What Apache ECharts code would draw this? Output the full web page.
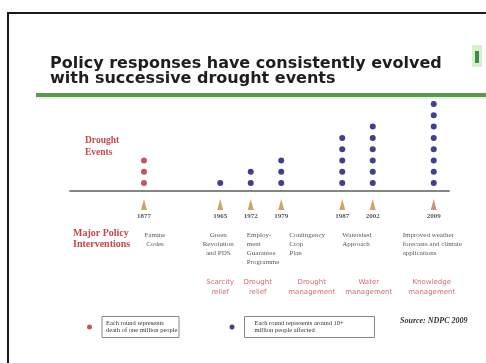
<!DOCTYPE html>
<html>
<head>
<meta charset="utf-8">
<script src="https://cdn.jsdelivr.net/npm/echarts@6/dist/echarts.min.js"></script>
<style>
  html, body { margin: 0; padding: 0; background: #fff; }
  #chart { width: 486px; height: 363px; }
</style>
</head>
<body>
<div id="chart"></div>
<script>
// Drought events and the policy response that followed each one
const years = ['1877', '1965', '1972', '1979', '1987', '2002', '2009'];
const deathDots = [3, 0, 0, 0, 0, 0, 0];      // one dot = death of one million people
const affectedDots = [0, 1, 2, 3, 5, 6, 8];   // one dot = people affected
const policies = [
  'Famine\nCodes',
  'Green\nRevolution\nand PDS',
  'Employ-\nment\nGuarantee\nProgramme',
  'Contingency\nCrop\nPlan',
  'Watershed\nApproach',
  '',
  'Improved weather\nforecasts and climate\napplications'
];
const phases = ['Scarcity\nrelief', 'Drought\nrelief', 'Drought\nmanagement', 'Water\nmanagement', 'Knowledge\nmanagement'];
const phaseEvent = [1, 2, 3.5, 5, 6];   // event index each phase sits under (3.5 = between 1979 and 1987)

// Timeline spacing (schematic, not to scale): gap in slots before each event
const slotGap = [0, 5, 2, 2, 4, 2, 4];
const slots = [];
slotGap.reduce((acc, g, i) => { slots[i] = acc + g; return acc + g; }, 0);
const slotAt = f => {
  const i = Math.floor(f), t = f - i;
  return t === 0 ? slots[i] : slots[i] + (slots[i + 1] - slots[i]) * t;
};

// Label placement for the policy notes
const policyAlign = ['center', 'center', 'left', 'left', 'left', 'left', 'left'];
const policyDx = [11, -2, -4, 8, 0, 0, -31];
const phaseDx = [0, 7, 0, -4, -2];

const RED = '#a8323a', BLUE = '#121266', PINK = '#c4484d';

const deathPts = [], affectedPts = [];
years.forEach((y, i) => {
  for (let k = 1; k <= deathDots[i]; k++) deathPts.push([slots[i], k]);
  for (let k = 1; k <= affectedDots[i]; k++) affectedPts.push([slots[i], k]);
});

const conePts = years.map((y, i) => ({
  value: [slots[i], -0.9],
  year: y,
  itemStyle: { color: i === years.length - 1 ? '#b07a62' : '#bf9040' }
}));

const policyPts = policies.map((p, i) => ({
  value: [slots[i], -3.25],
  label: { formatter: p, align: policyAlign[i], offset: [policyDx[i], 0] }
}));

const phasePts = phases.map((p, i) => ({
  value: [slotAt(phaseEvent[i]), -7.3],
  label: { formatter: p, offset: [phaseDx[i], 0] }
}));

const serif = '"Liberation Serif", "DejaVu Serif", serif';
const chart = echarts.init(document.getElementById('chart'), null, { renderer: 'canvas' });

chart.setOption({
  animation: false,
  backgroundColor: '#ffffff',
  title: {
    text: 'Policy responses have consistently evolved\nwith successive drought events',
    left: 45, top: 51,
    textStyle: { fontFamily: '"DejaVu Sans", sans-serif', fontSize: 16, fontWeight: 'bold', lineHeight: 15, color: '#1e1e1e' }
  },
  legend: {
    left: 82, top: 311,
    orient: 'horizontal',
    itemWidth: 15, itemHeight: 5, itemGap: 50,
    icon: 'circle',
    data: [
      { name: 'deaths', textStyle: { width: 69 } },
      { name: 'affected', textStyle: { width: 116, padding: [3, 4, 3, 10] } }
    ],
    formatter: n => n === 'deaths'
      ? 'Each round represents\ndeath of one million people'
      : 'Each round represents around 10+\nmillion people affected',
    textStyle: {
      fontFamily: serif, fontSize: 6.5, lineHeight: 7.5, color: '#333',
      borderColor: '#888', borderWidth: 1, padding: [3, 4]
    }
  },
  grid: { left: 70, right: 37, top: 92.7, bottom: 172 },
  xAxis: {
    type: 'value', min: -4.85, max: 20,
    axisLine: { show: true, onZero: false, lineStyle: { color: '#858585', width: 2 } },
    axisTick: { show: false }, axisLabel: { show: false }, splitLine: { show: false }
  },
  yAxis: {
    type: 'value', min: 0.3, max: 9, show: false,
    splitLine: { show: false }
  },
  series: [
    {
      name: 'deaths', type: 'scatter', data: deathPts,
      symbolSize: 6, itemStyle: { color: RED }
    },
    {
      name: 'affected', type: 'scatter', data: affectedPts,
      symbolSize: 6, itemStyle: { color: BLUE }
    },
    {
      name: 'years', type: 'scatter', data: conePts, clip: false,
      symbol: 'triangle', symbolSize: [6, 11],
      label: {
        show: true, position: 'bottom', distance: 3,
        formatter: p => p.data.year,
        fontFamily: serif, fontSize: 7, fontWeight: 'bold', color: '#2a2a2a'
      }
    },
    {
      name: 'policies', type: 'scatter', data: policyPts, clip: false,
      symbolSize: 0, silent: true,
      label: {
        show: true, position: [0, 0], verticalAlign: 'top',
        fontFamily: serif, fontSize: 7, lineHeight: 9, color: '#2e2e2e'
      }
    },
    {
      name: 'phases', type: 'scatter', data: phasePts, clip: false,
      symbolSize: 0, silent: true,
      label: {
        show: true, position: [0, 0], align: 'center', verticalAlign: 'top',
        fontFamily: '"DejaVu Sans", sans-serif', fontSize: 7, lineHeight: 10, color: PINK
      }
    }
  ],
  graphic: [
    { type: 'rect', shape: { x: 8, y: 13, width: 520, height: 400 }, style: { fill: 'none', stroke: '#1a1a1a', lineWidth: 2 }, silent: true },
    { type: 'rect', shape: { x: 36, y: 93, width: 460, height: 4 }, style: { fill: '#5b9a4f' } },
    { type: 'rect', shape: { x: 36, y: 97, width: 460, height: 2 }, style: { fill: '#e4f2df' } },
    { type: 'rect', shape: { x: 472, y: 45, width: 10, height: 22 }, style: { fill: '#d8eecf' } },
    { type: 'rect', shape: { x: 475, y: 51, width: 4, height: 12 }, style: { fill: '#3a9145' } },
    {
      type: 'text', left: 85, top: 135,
      style: { text: 'Drought\nEvents', font: 'bold 9.5px ' + serif, lineHeight: 12, fill: PINK }
    },
    {
      type: 'text', left: 73, top: 228,
      style: { text: 'Major Policy\nInterventions', font: 'bold 10px ' + serif, lineHeight: 11, fill: PINK }
    },
    {
      type: 'text', left: 400, top: 317,
      style: { text: 'Source: NDPC 2009', font: 'italic bold 8px ' + serif, fill: '#333' }
    }
  ]
});
</script>
</body>
</html>
